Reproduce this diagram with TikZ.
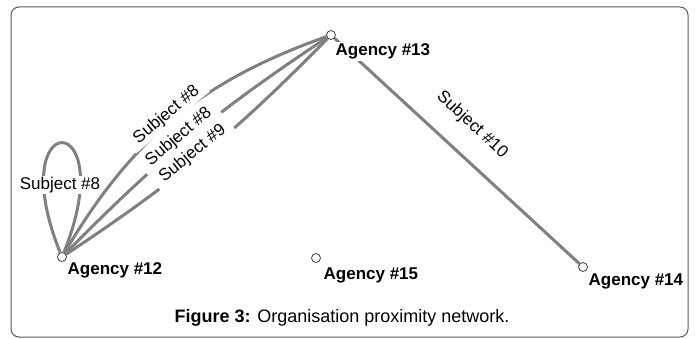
\documentclass[tikz,border=0pt]{standalone}
\usepackage{fontspec}
\setmainfont{Liberation Sans}
\usetikzlibrary{positioning}

\begin{document}
\begin{tikzpicture}[x=1pt,y=1pt,
  agency/.style={circle,draw=black!75,fill=white,line width=0.8pt,inner sep=0pt,minimum size=9pt},
  agname/.style={inner sep=2pt,fill=white,font=\fontsize{17}{20}\selectfont\bfseries},
  link/.style={draw=black!50,line width=3pt},
  subj/.style={sloped,fill=white,inner xsep=8pt,inner ysep=2pt,font=\fontsize{17}{20}\selectfont}]
\useasboundingbox (0,0) rectangle (696,338);
\draw[black!65,line width=1pt,rounded corners=8pt] (11,1) rectangle (688,331);
% agencies
\node[agency] (ag12) at (62,81) {};
\node[agency] (ag13) at (331,303) {};
\node[agency] (ag14) at (583,71) {};
\node[agency] (ag15) at (316,80) {};
% subjects
\draw[link] (ag12) to[out=112,in=68,distance=158pt] (ag12);
\node[fill=white,inner sep=1pt,font=\fontsize{17}{20}\selectfont] (s8) at (60,153) {Subject \#8};
\draw[link] (ag12) to[bend left=20] node[subj,pos=0.49,above=-4pt] {Subject \#8} (ag13);
\draw[link] (ag12) to[bend left=6] node[subj,pos=0.475,above=-4pt] {Subject \#8} (ag13);
\draw[link] (ag12) to[bend right=6] node[subj,pos=0.475,above=-4pt] {Subject \#9} (ag13);
\draw[link] (ag13) -- node[subj,pos=0.48,above=18pt] {Subject \#10} (ag14);
% names
\node[agname,below right=0pt and 0pt of ag12] (lb12) {Agency \#12};
\node[agname,below right=3pt and -1pt of ag13] (lb13) {Agency \#13};
\node[agname,below right=1pt and 0pt of ag14] (lb14) {Agency \#14};
\node[agname,below right=4pt and 2pt of ag15] (lb15) {Agency \#15};
% caption
\node[font=\fontsize{18}{21}\selectfont] (cap) at (342,20) {\textbf{Figure 3:} Organisation proximity network.};
\end{tikzpicture}
\end{document}
